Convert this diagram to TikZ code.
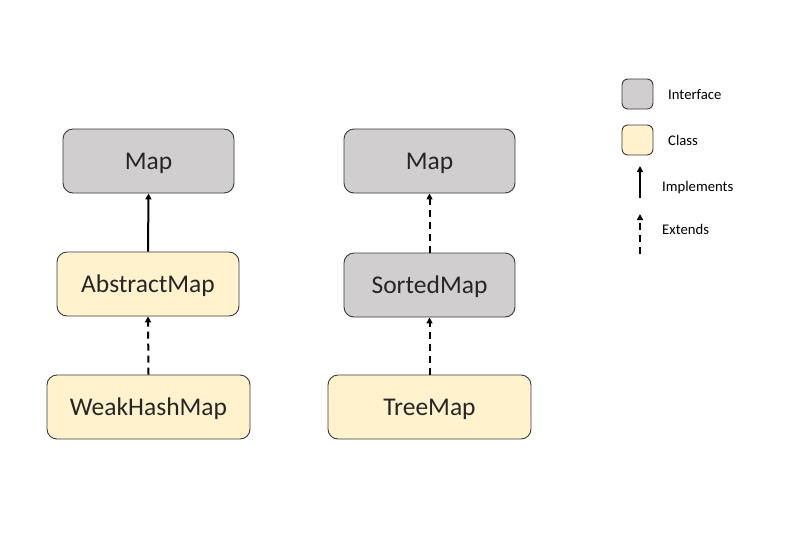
\documentclass[tikz,border=0pt]{standalone}
\usepackage{fontspec}
\setmainfont{Carlito}
\usetikzlibrary{arrows.meta}
\definecolor{ifc}{HTML}{D0CECE}
\definecolor{clc}{HTML}{FFF2CC}
\definecolor{edge}{HTML}{3A3A3A}
\begin{document}
\begin{tikzpicture}[x=1pt,y=-1pt,
  box/.style={draw=edge,line width=0.9pt,rounded corners=10pt,minimum height=64pt,inner sep=0pt,font=\fontsize{25.5}{28}\selectfont,text height=16.2pt,text depth=0pt,text=black!85},
  iface/.style={box,fill=ifc},
  klass/.style={box,fill=clc},
  lbox/.style={draw=edge,line width=0.9pt,rounded corners=6pt,minimum width=31pt,minimum height=30pt,inner sep=0pt},
  ltext/.style={font=\fontsize{14.7}{17}\selectfont,anchor=west,inner sep=0pt,text height=9.3pt,text depth=0pt},
  impl/.style={line width=2pt,-{Triangle[width=6pt,length=6pt]}},
  ext/.style={line width=2pt,dash pattern=on 7pt off 5pt,-{Triangle[width=6pt,length=6pt]}}
]
\useasboundingbox (0,0) rectangle (803,547);
\fill[white] (0,0) rectangle (803,547);
% left column
\node[iface,minimum width=171pt] (map1) at (148.5,161) {Map};
\node[klass,minimum width=182pt] (abs) at (148,284) {AbstractMap};
\node[klass,minimum width=203pt] (weak) at (148.5,407) {WeakHashMap};
\draw[impl] (abs.north) -- (map1.south);
\draw[ext] (weak.north) -- (abs.south);
% right column
\node[iface,minimum width=171pt] (map2) at (429.5,161) {Map};
\node[iface,minimum width=171pt] (sorted) at (429.5,285) {SortedMap};
\node[klass,minimum width=203pt] (tree) at (429.5,407) {TreeMap};
\draw[ext] (sorted.north) -- (map2.south);
\draw[ext] (tree.north) -- (sorted.south);
% legend
\node[lbox,fill=ifc] (li) at (637.5,94) {};
\node[lbox,fill=clc] (lc) at (637.5,140) {};
\node[ltext] (ti) at (668,95) {Interface};
\node[ltext] (tc) at (668,141) {Class};
\coordinate (ia) at (640,198);
\coordinate (ib) at (640,166);
\draw[impl] (ia) -- (ib);
\node[ltext] (tim) at (662,187) {Implements};
\coordinate (ea) at (640,254);
\coordinate (eb) at (640,214);
\draw[ext] (ea) -- (eb);
\node[ltext] (tex) at (662,230) {Extends};
\end{tikzpicture}
\end{document}
